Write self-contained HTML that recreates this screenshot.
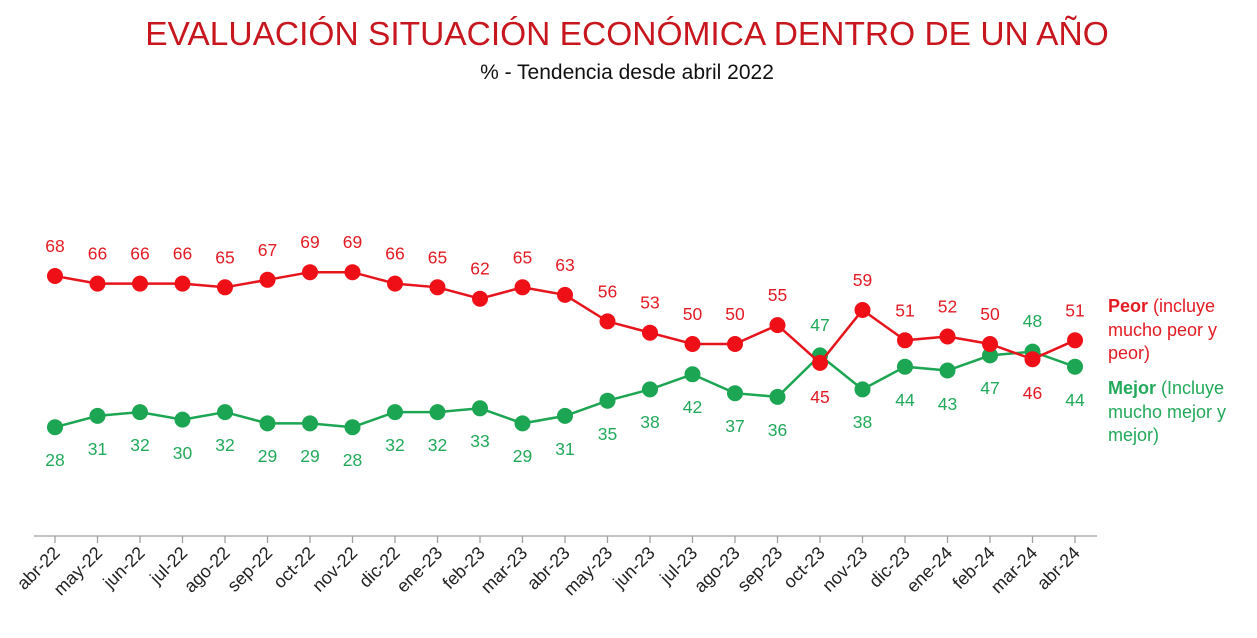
<!DOCTYPE html>
<html><head><meta charset="utf-8"><style>
html,body{margin:0;padding:0;background:#fff;}
svg{display:block;font-family:"Liberation Sans",Arial,sans-serif;}
</style></head><body>
<svg width="1257" height="638" viewBox="0 0 1257 638" xmlns="http://www.w3.org/2000/svg">
<text x="627" y="45" text-anchor="middle" font-size="33.5" fill="#c8161e">EVALUACIÓN SITUACIÓN ECONÓMICA DENTRO DE UN AÑO</text>
<text x="627" y="79" text-anchor="middle" font-size="21" fill="#111">% - Tendencia desde abril 2022</text>

<line x1="34" y1="536" x2="1097" y2="536" stroke="#a0a0a0" stroke-width="1.3"/>
<g stroke="#a0a0a0" stroke-width="1.3">
<line x1="55" y1="536" x2="55" y2="543"/><line x1="97.5" y1="536" x2="97.5" y2="543"/><line x1="140" y1="536" x2="140" y2="543"/><line x1="182.5" y1="536" x2="182.5" y2="543"/><line x1="225" y1="536" x2="225" y2="543"/><line x1="267.5" y1="536" x2="267.5" y2="543"/><line x1="310" y1="536" x2="310" y2="543"/><line x1="352.5" y1="536" x2="352.5" y2="543"/><line x1="395" y1="536" x2="395" y2="543"/><line x1="437.5" y1="536" x2="437.5" y2="543"/><line x1="480" y1="536" x2="480" y2="543"/><line x1="522.5" y1="536" x2="522.5" y2="543"/><line x1="565" y1="536" x2="565" y2="543"/><line x1="607.5" y1="536" x2="607.5" y2="543"/><line x1="650" y1="536" x2="650" y2="543"/><line x1="692.5" y1="536" x2="692.5" y2="543"/><line x1="735" y1="536" x2="735" y2="543"/><line x1="777.5" y1="536" x2="777.5" y2="543"/><line x1="820" y1="536" x2="820" y2="543"/><line x1="862.5" y1="536" x2="862.5" y2="543"/><line x1="905" y1="536" x2="905" y2="543"/><line x1="947.5" y1="536" x2="947.5" y2="543"/><line x1="990" y1="536" x2="990" y2="543"/><line x1="1032.5" y1="536" x2="1032.5" y2="543"/><line x1="1075" y1="536" x2="1075" y2="543"/>
</g>
<g font-size="18" fill="#222" text-anchor="end">
<text transform="translate(61,554) rotate(-45)">abr-22</text>
<text transform="translate(103.5,554) rotate(-45)">may-22</text>
<text transform="translate(146,554) rotate(-45)">jun-22</text>
<text transform="translate(188.5,554) rotate(-45)">jul-22</text>
<text transform="translate(231,554) rotate(-45)">ago-22</text>
<text transform="translate(273.5,554) rotate(-45)">sep-22</text>
<text transform="translate(316,554) rotate(-45)">oct-22</text>
<text transform="translate(358.5,554) rotate(-45)">nov-22</text>
<text transform="translate(401,554) rotate(-45)">dic-22</text>
<text transform="translate(443.5,554) rotate(-45)">ene-23</text>
<text transform="translate(486,554) rotate(-45)">feb-23</text>
<text transform="translate(528.5,554) rotate(-45)">mar-23</text>
<text transform="translate(571,554) rotate(-45)">abr-23</text>
<text transform="translate(613.5,554) rotate(-45)">may-23</text>
<text transform="translate(656,554) rotate(-45)">jun-23</text>
<text transform="translate(698.5,554) rotate(-45)">jul-23</text>
<text transform="translate(741,554) rotate(-45)">ago-23</text>
<text transform="translate(783.5,554) rotate(-45)">sep-23</text>
<text transform="translate(826,554) rotate(-45)">oct-23</text>
<text transform="translate(868.5,554) rotate(-45)">nov-23</text>
<text transform="translate(911,554) rotate(-45)">dic-23</text>
<text transform="translate(953.5,554) rotate(-45)">ene-24</text>
<text transform="translate(996,554) rotate(-45)">feb-24</text>
<text transform="translate(1038.5,554) rotate(-45)">mar-24</text>
<text transform="translate(1081,554) rotate(-45)">abr-24</text>
</g>

<polyline fill="none" stroke="#1ca552" stroke-width="2.5" points="55,427.2 97.5,415.9 140,412.1 182.5,419.6 225,412.1 267.5,423.4 310,423.4 352.5,427.2 395,412.1 437.5,412.1 480,408.3 522.5,423.4 565,415.9 607.5,400.7 650,389.4 692.5,374.3 735,393.2 777.5,396.9 820,355.4 862.5,389.4 905,366.7 947.5,370.5 990,355.4 1032.5,351.6 1075,366.7"/>
<g fill="#1ca552">
<circle cx="55" cy="427.2" r="8"/><circle cx="97.5" cy="415.9" r="8"/><circle cx="140" cy="412.1" r="8"/><circle cx="182.5" cy="419.6" r="8"/><circle cx="225" cy="412.1" r="8"/><circle cx="267.5" cy="423.4" r="8"/><circle cx="310" cy="423.4" r="8"/><circle cx="352.5" cy="427.2" r="8"/><circle cx="395" cy="412.1" r="8"/><circle cx="437.5" cy="412.1" r="8"/><circle cx="480" cy="408.3" r="8"/><circle cx="522.5" cy="423.4" r="8"/><circle cx="565" cy="415.9" r="8"/><circle cx="607.5" cy="400.7" r="8"/><circle cx="650" cy="389.4" r="8"/><circle cx="692.5" cy="374.3" r="8"/><circle cx="735" cy="393.2" r="8"/><circle cx="777.5" cy="396.9" r="8"/><circle cx="820" cy="355.4" r="8"/><circle cx="862.5" cy="389.4" r="8"/><circle cx="905" cy="366.7" r="8"/><circle cx="947.5" cy="370.5" r="8"/><circle cx="990" cy="355.4" r="8"/><circle cx="1032.5" cy="351.6" r="8"/><circle cx="1075" cy="366.7" r="8"/>
</g>

<polyline fill="none" stroke="#e8141c" stroke-width="2.5" points="55,276 97.5,283.6 140,283.6 182.5,283.6 225,287.3 267.5,279.8 310,272.2 352.5,272.2 395,283.6 437.5,287.3 480,298.7 522.5,287.3 565,294.9 607.5,321.4 650,332.7 692.5,344 735,344 777.5,325.1 820,362.9 862.5,310 905,340.3 947.5,336.5 990,344 1032.5,359.2 1075,340.3"/>
<g fill="#ee0f17">
<circle cx="55" cy="276" r="8"/><circle cx="97.5" cy="283.6" r="8"/><circle cx="140" cy="283.6" r="8"/><circle cx="182.5" cy="283.6" r="8"/><circle cx="225" cy="287.3" r="8"/><circle cx="267.5" cy="279.8" r="8"/><circle cx="310" cy="272.2" r="8"/><circle cx="352.5" cy="272.2" r="8"/><circle cx="395" cy="283.6" r="8"/><circle cx="437.5" cy="287.3" r="8"/><circle cx="480" cy="298.7" r="8"/><circle cx="522.5" cy="287.3" r="8"/><circle cx="565" cy="294.9" r="8"/><circle cx="607.5" cy="321.4" r="8"/><circle cx="650" cy="332.7" r="8"/><circle cx="692.5" cy="344" r="8"/><circle cx="735" cy="344" r="8"/><circle cx="777.5" cy="325.1" r="8"/><circle cx="820" cy="362.9" r="8"/><circle cx="862.5" cy="310" r="8"/><circle cx="905" cy="340.3" r="8"/><circle cx="947.5" cy="336.5" r="8"/><circle cx="990" cy="344" r="8"/><circle cx="1032.5" cy="359.2" r="8"/><circle cx="1075" cy="340.3" r="8"/>
</g>

<g font-size="17.5" fill="#e31b23" text-anchor="middle">
<text x="55" y="252">68</text><text x="97.5" y="259.6">66</text><text x="140" y="259.6">66</text><text x="182.5" y="259.6">66</text><text x="225" y="263.3">65</text><text x="267.5" y="255.8">67</text><text x="310" y="248.2">69</text><text x="352.5" y="248.2">69</text><text x="395" y="259.6">66</text><text x="437.5" y="263.3">65</text><text x="480" y="274.7">62</text><text x="522.5" y="263.3">65</text><text x="565" y="270.9">63</text><text x="607.5" y="297.4">56</text><text x="650" y="308.7">53</text><text x="692.5" y="320">50</text><text x="735" y="320">50</text><text x="777.5" y="301.1">55</text><text x="820" y="403">45</text><text x="862.5" y="286">59</text><text x="905" y="316.3">51</text><text x="947.5" y="312.5">52</text><text x="990" y="320">50</text><text x="1032.5" y="399">46</text><text x="1075" y="316.3">51</text>
</g>
<g font-size="17.5" fill="#22a95a" text-anchor="middle">
<text x="55" y="466">28</text><text x="97.5" y="455">31</text><text x="140" y="451">32</text><text x="182.5" y="459">30</text><text x="225" y="451">32</text><text x="267.5" y="462">29</text><text x="310" y="462">29</text><text x="352.5" y="466">28</text><text x="395" y="451">32</text><text x="437.5" y="451">32</text><text x="480" y="447">33</text><text x="522.5" y="462">29</text><text x="565" y="455">31</text><text x="607.5" y="440">35</text><text x="650" y="428">38</text><text x="692.5" y="413">42</text><text x="735" y="432">37</text><text x="777.5" y="436">36</text><text x="820" y="331">47</text><text x="862.5" y="428">38</text><text x="905" y="406">44</text><text x="947.5" y="410">43</text><text x="990" y="394">47</text><text x="1032.5" y="327">48</text><text x="1075" y="406">44</text>
</g>

<g font-size="18" fill="#e31b23">
<text x="1108" y="312"><tspan font-weight="bold">Peor</tspan> (incluye</text>
<text x="1108" y="336">mucho peor y</text>
<text x="1108" y="359">peor)</text>
</g>
<g font-size="18" fill="#22a95a">
<text x="1108" y="394"><tspan font-weight="bold">Mejor</tspan> (Incluye</text>
<text x="1108" y="418">mucho mejor y</text>
<text x="1108" y="441">mejor)</text>
</g>
</svg>
</body></html>
